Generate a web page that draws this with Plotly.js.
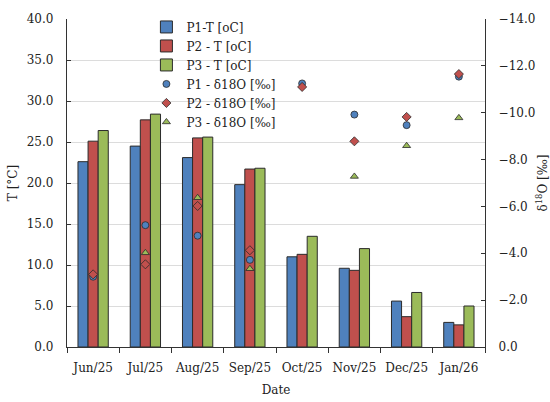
<!DOCTYPE html>
<html><head><meta charset="utf-8">
<script src="https://cdn.plot.ly/plotly-3.0.1.min.js"></script>
<style>html,body{margin:0;padding:0;background:#fff}#c{width:550px;height:402px}</style>
</head><body><div id="c"></div>
<script>
const dates = ["Jun/25","Jul/25","Aug/25","Sep/25","Oct/25","Nov/25","Dec/25","Jan/26"];
const p1T = [22.6, 24.5, 23.1, 19.8, 11.0, 9.6, 5.6, 3.0];
const p2T = [25.1, 27.7, 25.5, 21.7, 11.3, 9.35, 3.7, 2.7];
const p3T = [26.4, 28.4, 25.6, 21.8, 13.5, 12.0, 6.65, 5.0];
const p1D = [-3.0, -5.2, -4.75, -3.72, -11.25, -9.92, -9.47, -11.54];
const p2D = [-3.1, -3.53, -6.02, -4.13, -11.1, -8.78, -9.82, -11.65];
const p3D = [null, -4.02, -6.37, -3.34, null, -7.28, -8.59, -9.78];
const names = ["P1-T [oC]","P2 - T [oC]","P3 - T [oC]","P1 - δ18O [‰]","P2 - δ18O [‰]","P3 - δ18O [‰]"];
const blue="#4F81BD", red="#C0504D", green="#9BBB59", edge="#2b2b2b";
const barLine={color:edge,width:1};
const traces=[
 {type:"bar",x:dates,y:p1T,name:names[0],marker:{color:blue,line:barLine}},
 {type:"bar",x:dates,y:p2T,name:names[1],marker:{color:red,line:barLine}},
 {type:"bar",x:dates,y:p3T,name:names[2],marker:{color:green,line:barLine}},
 {type:"scatter",mode:"markers",x:dates,y:p1D,yaxis:"y2",name:names[3],marker:{symbol:"circle",size:7,color:blue,line:{color:edge,width:0.8}}},
 {type:"scatter",mode:"markers",x:dates,y:p2D,yaxis:"y2",name:names[4],marker:{symbol:"diamond",size:7,color:red,line:{color:edge,width:0.8}}},
 {type:"scatter",mode:"markers",x:dates,y:p3D,yaxis:"y2",name:names[5],marker:{symbol:"triangle-up",size:7,color:green,line:{color:edge,width:0.8}}}
];
const F="DejaVu Serif, serif";
const layout={
 width:550,height:402,
 margin:{l:67,r:65,t:16,b:54.5},
 paper_bgcolor:"#fff",plot_bgcolor:"#fff",
 font:{family:F,size:12,color:"#222"},
 barmode:"group",bargap:0.42,bargroupgap:0,
 showlegend:true,
 legend:{x:0.19,y:1.02,xanchor:"left",yanchor:"top",bgcolor:"rgba(0,0,0,0)",font:{family:F,size:12,color:"#222"},tracegroupgap:0,itemwidth:30},
 xaxis:{type:"category",tickson:"boundaries",ticks:"outside",ticklen:5,tickcolor:"#333",tickangle:0,
   showline:true,linecolor:"#333",linewidth:1.2,showgrid:false,ticklabelstandoff:9,
   title:{text:"Date",font:{family:F,size:12},standoff:12},tickfont:{family:F,size:12}},
 yaxis:{range:[0,40],dtick:5,tickformat:".1f",ticks:"inside",ticklen:4,tickcolor:"#333",
   showline:true,linecolor:"#333",linewidth:1.2,showgrid:true,gridcolor:"#dcdcdc",gridwidth:1,zeroline:false,ticklabelstandoff:10,
   title:{text:"T [°C]",font:{family:F,size:12},standoff:6},tickfont:{family:F,size:12}},
 yaxis2:{overlaying:"y",side:"right",range:[0,-14],dtick:2,tickformat:".1f",ticks:"inside",ticklen:4,tickcolor:"#333",
   showline:true,linecolor:"#333",linewidth:1.2,showgrid:false,zeroline:false,ticklabelstandoff:10,
   title:{text:"δ<sup>18</sup>O [‰]",font:{family:F,size:12},standoff:4},tickfont:{family:F,size:12}}
};
Plotly.newPlot("c",traces,layout,{displayModeBar:false,staticPlot:true});
</script></body></html>
